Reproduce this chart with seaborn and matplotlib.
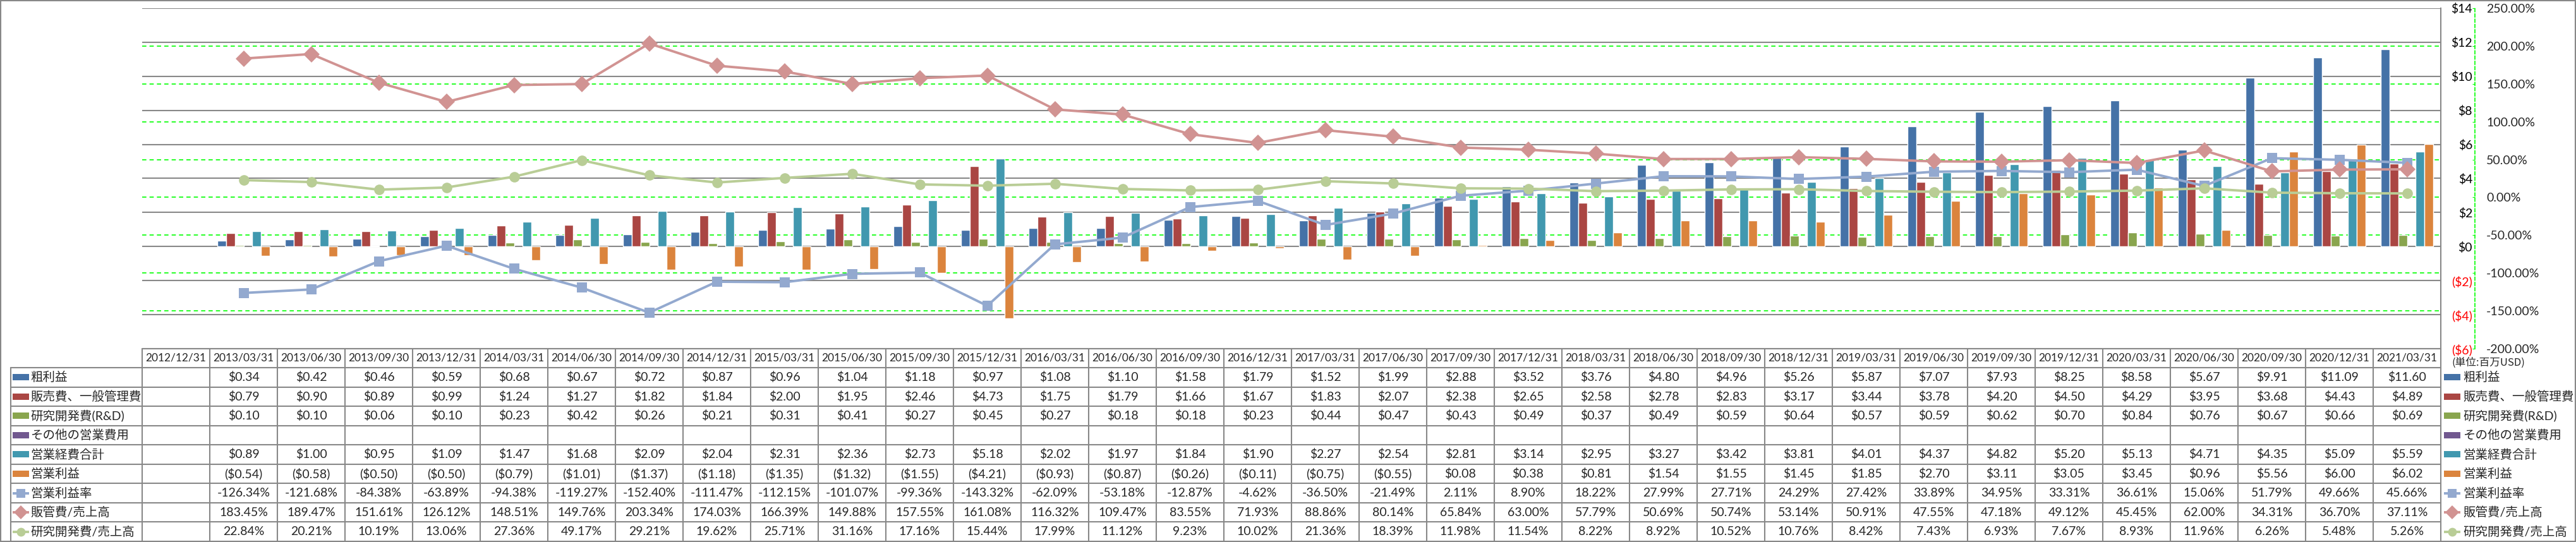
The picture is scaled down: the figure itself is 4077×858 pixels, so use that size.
import numpy as np
import pandas as pd
import matplotlib
matplotlib.use("Agg")
import matplotlib.pyplot as plt
import matplotlib.transforms as mtransforms
from matplotlib.lines import Line2D
from matplotlib.patches import Rectangle
import seaborn as sns

# quarter-end dates (first column has no data)
dates = [
    "2012/12/31", "2013/03/31", "2013/06/30", "2013/09/30", "2013/12/31",
    "2014/03/31", "2014/06/30", "2014/09/30", "2014/12/31",
    "2015/03/31", "2015/06/30", "2015/09/30", "2015/12/31",
    "2016/03/31", "2016/06/30", "2016/09/30", "2016/12/31",
    "2017/03/31", "2017/06/30", "2017/09/30", "2017/12/31",
    "2018/03/31", "2018/06/30", "2018/09/30", "2018/12/31",
    "2019/03/31", "2019/06/30", "2019/09/30", "2019/12/31",
    "2020/03/31", "2020/06/30", "2020/09/30", "2020/12/31",
    "2021/03/31",
]

# million USD
gross = [0.34, 0.42, 0.46, 0.59, 0.68, 0.67, 0.72, 0.87, 0.96, 1.04, 1.18, 0.97,
         1.08, 1.10, 1.58, 1.79, 1.52, 1.99, 2.88, 3.52, 3.76, 4.80, 4.96, 5.26,
         5.87, 7.07, 7.93, 8.25, 8.58, 5.67, 9.91, 11.09, 11.60]
sga = [0.79, 0.90, 0.89, 0.99, 1.24, 1.27, 1.82, 1.84, 2.00, 1.95, 2.46, 4.73,
       1.75, 1.79, 1.66, 1.67, 1.83, 2.07, 2.38, 2.65, 2.58, 2.78, 2.83, 3.17,
       3.44, 3.78, 4.20, 4.50, 4.29, 3.95, 3.68, 4.43, 4.89]
rnd = [0.10, 0.10, 0.06, 0.10, 0.23, 0.42, 0.26, 0.21, 0.31, 0.41, 0.27, 0.45,
       0.27, 0.18, 0.18, 0.23, 0.44, 0.47, 0.43, 0.49, 0.37, 0.49, 0.59, 0.64,
       0.57, 0.59, 0.62, 0.70, 0.84, 0.76, 0.67, 0.66, 0.69]
other = [None] * 33
opex = [0.89, 1.00, 0.95, 1.09, 1.47, 1.68, 2.09, 2.04, 2.31, 2.36, 2.73, 5.18,
        2.02, 1.97, 1.84, 1.90, 2.27, 2.54, 2.81, 3.14, 2.95, 3.27, 3.42, 3.81,
        4.01, 4.37, 4.82, 5.20, 5.13, 4.71, 4.35, 5.09, 5.59]
opinc = [-0.54, -0.58, -0.50, -0.50, -0.79, -1.01, -1.37, -1.18, -1.35, -1.32, -1.55, -4.21,
         -0.93, -0.87, -0.26, -0.11, -0.75, -0.55, 0.08, 0.38, 0.81, 1.54, 1.55, 1.45,
         1.85, 2.70, 3.11, 3.05, 3.45, 0.96, 5.56, 6.00, 6.02]

# percent
op_margin = [-126.34, -121.68, -84.38, -63.89, -94.38, -119.27, -152.40, -111.47,
             -112.15, -101.07, -99.36, -143.32, -62.09, -53.18, -12.87, -4.62,
             -36.50, -21.49, 2.11, 8.90, 18.22, 27.99, 27.71, 24.29,
             27.42, 33.89, 34.95, 33.31, 36.61, 15.06, 51.79, 49.66, 45.66]
sga_ratio = [183.45, 189.47, 151.61, 126.12, 148.51, 149.76, 203.34, 174.03,
             166.39, 149.88, 157.55, 161.08, 116.32, 109.47, 83.55, 71.93,
             88.86, 80.14, 65.84, 63.00, 57.79, 50.69, 50.74, 53.14,
             50.91, 47.55, 47.18, 49.12, 45.45, 62.00, 34.31, 36.70, 37.11]
rnd_ratio = [22.84, 20.21, 10.19, 13.06, 27.36, 49.17, 29.21, 19.62,
             25.71, 31.16, 17.16, 15.44, 17.99, 11.12, 9.23, 10.02,
             21.36, 18.39, 11.98, 11.54, 8.22, 8.92, 10.52, 10.76,
             8.42, 7.43, 6.93, 7.67, 8.93, 11.96, 6.26, 5.48, 5.26]

bar_names = ["粗利益", "販売費、一般管理費", "研究開発費(R&D)", "その他の営業費用", "営業経費合計", "営業利益"]
bar_values = [gross, sga, rnd, other, opex, opinc]
bar_colors = ["#4572A7", "#AA4643", "#89A54E", "#71588F", "#4198AF", "#DB843D"]

line_names = ["営業利益率", "販管費/売上高", "研究開発費/売上高"]
line_values = [op_margin, sga_ratio, rnd_ratio]
line_colors = ["#93A9CF", "#D19392", "#B9CD96"]
line_markers = ["s", "D", "o"]
marker_sizes = [12, 13, 12]

usd_ticks = list(range(-6, 15, 2))
pct_ticks = list(range(-200, 251, 50))

W, H = 4077, 858
GRID = "#888888"
sns.set_style("white")
plt.rcParams["font.family"] = ["Lato", "Noto Sans CJK JP", "DejaVu Sans"]

fig = plt.figure(figsize=(W / 100, H / 100), dpi=100)

# plot area in pixels
PL, PR, PT, PB = 225, 3863, 13, 552
ax = fig.add_axes([PL / W, 1 - PB / H, (PR - PL) / W, (PB - PT) / H])

rows = []
for name, vals in zip(bar_names, bar_values):
    for d, v in zip(dates[1:], vals):
        rows.append({"date": d, "series": name, "value": np.nan if v is None else v})
df = pd.DataFrame(rows)

sns.barplot(data=df, x="date", y="value", hue="series", order=dates,
            hue_order=bar_names, palette=bar_colors, saturation=1, width=0.785,
            errorbar=None, legend=False, ax=ax, zorder=3)
ax.set_xlim(-0.5, len(dates) - 0.5)
ax.set_ylim(-6, 14)
ax.tick_params(axis="x", bottom=False, labelbottom=False)
ax.set_xlabel("")
ax.set_ylabel("")
ax.grid(axis="y", color=GRID, lw=1.5)
ax.grid(axis="x", visible=False)
ax.set_axisbelow(True)

# secondary axis with ratio lines
ax2 = ax.twinx()
xpos = np.arange(1, len(dates))
for name, vals, c, m, ms in zip(line_names, line_values, line_colors, line_markers, marker_sizes):
    sns.lineplot(x=xpos, y=vals, ax=ax2, color=c, marker=m, markersize=ms,
                 markeredgewidth=0, linewidth=2.8, legend=False, zorder=5)
ax2.set_ylim(-200, 250)
ax2.set_yticks(pct_ticks)
ax2.set_yticklabels([f"{p:.2f}%" for p in pct_ticks])
for lbl, p in zip(ax2.get_yticklabels(), pct_ticks):
    lbl.set_color("red" if p < 0 else "black")
ax2.tick_params(axis="y", direction="in", length=3, color="#00ff00", pad=13, labelsize=14)
ax2.set_ylabel("")
ax2.grid(False)
for s in ["left", "top", "bottom"]:
    ax2.spines[s].set_visible(False)
ax2.spines["right"].set_position(("outward", 54 * 0.72))
ax2.spines["right"].set_color("#00ff00")
ax2.spines["right"].set_linestyle((0, (3, 2)))
ax2.spines["right"].set_linewidth(1.2)

# primary dollar axis labels also sit on the right (twinx resets this)
ax.yaxis.set_ticks_position("right")
ax.set_yticks(usd_ticks)
ax.set_yticklabels([f"${v}" if v >= 0 else f"(${-v})" for v in usd_ticks])
ax.tick_params(axis="y", length=0, pad=36, labelsize=14)
for lbl, v in zip(ax.get_yticklabels(), usd_ticks):
    lbl.set_horizontalalignment("right")
    lbl.set_color("red" if v < 0 else "black")
for s in ["left", "top", "bottom"]:
    ax.spines[s].set_visible(False)
ax.spines["right"].set_color(GRID)
ax.spines["right"].set_linewidth(1.5)

# secondary gridlines, drawn behind the bars
blend = mtransforms.blended_transform_factory(ax.transAxes, ax2.transData)
for p in pct_ticks[1:-1]:
    ax.add_line(Line2D([0, 1], [p, p], transform=blend, color="#00ff00",
                       lw=1.2, ls=(0, (4, 3)), zorder=1))

# data table drawn in pixel space
tab = fig.add_axes([0, 0, 1, 1])
tab.set_xlim(0, W)
tab.set_ylim(H, 0)
tab.axis("off")
tab.patch.set_visible(False)

ncol = len(dates)
colw = (PR - PL) / ncol
RH_L = 17
row_top = 582
row_h = 30.55
nrow = 9

# header
for i, d in enumerate(dates):
    tab.text(PL + (i + 0.5) * colw, (PB + row_top) / 2, d, ha="center", va="center", fontsize=12.5)

all_names = bar_names + line_names
table_vals = bar_values + line_values
for r, (name, vals) in enumerate(zip(all_names, table_vals)):
    yc = row_top + (r + 0.5) * row_h
    for i, v in enumerate(vals):
        if v is None:
            continue
        if r < 6:
            s = f"${v:.2f}" if v >= 0 else f"(${-v:.2f})"
        else:
            s = f"{v:.2f}%"
        tab.text(PL + (i + 1.5) * colw, yc, s, ha="center", va="center", fontsize=14)

# table grid
tab.plot([PL, PR], [PB, PB], color=GRID, lw=1.5)
for r in range(nrow + 1):
    y = row_top + r * row_h
    tab.plot([RH_L, PR], [y, y], color=GRID, lw=1.5)
tab.plot([RH_L, RH_L], [row_top, row_top + nrow * row_h], color=GRID, lw=1.5)
for i in range(ncol + 1):
    x = PL + i * colw
    tab.plot([x, x], [PB, row_top + nrow * row_h], color=GRID, lw=1.5)


def draw_key(x0, yc, r):
    if r < 6:
        tab.add_patch(Rectangle((x0, yc - 5), 26, 10, color=bar_colors[r], lw=0))
    else:
        k = r - 6
        tab.plot([x0, x0 + 26], [yc, yc], color=line_colors[k], lw=2.8, solid_capstyle="butt")
        tab.plot([x0 + 13], [yc], marker=line_markers[k], color=line_colors[k],
                 markersize=marker_sizes[k] - 2, markeredgewidth=0)


for r, name in enumerate(all_names):
    yc = row_top + (r + 0.5) * row_h
    draw_key(20, yc, r)
    tab.text(48, yc, name, ha="left", va="center", fontsize=14)
    draw_key(3868, yc, r)
    tab.text(3898, yc, name, ha="left", va="center", fontsize=14)

tab.text(3880, 574, "(単位:百万USD)", ha="left", va="center", fontsize=12,
         family=["Noto Sans CJK JP", "DejaVu Sans"])

# outer frame
tab.add_patch(Rectangle((0.8, 0.8), W - 1.6, H - 1.6, fill=False, ec=GRID, lw=1.5))

fig.savefig("out.png", dpi=100, facecolor="white")
